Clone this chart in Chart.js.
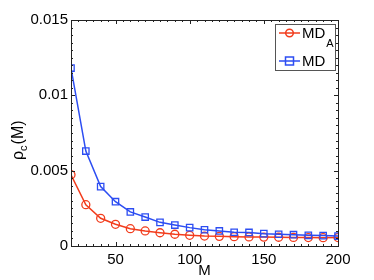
<!DOCTYPE html>
<html><head><meta charset="utf-8">
<script src="https://cdn.jsdelivr.net/npm/chart.js@4/dist/chart.umd.min.js"></script>
<style>html,body{margin:0;padding:0;background:#fff}#wrap{width:374px;height:280px}</style>
</head><body><div id="wrap"><canvas id="c" width="374" height="280"></canvas></div>
<script>
const M = [20,30,40,50,60,70,80,90,100,110,120,130,140,150,160,170,180,190,200];
const MD_A = [0.00473,0.00274,0.00184,0.00144,0.00115,0.00100,0.00088,0.00078,0.00071,0.00066,0.00064,0.00062,0.00060,0.00059,0.00058,0.00057,0.00056,0.00055,0.00056];
const MD = [0.01181,0.00630,0.00394,0.00294,0.00226,0.00192,0.00157,0.00139,0.00122,0.00108,0.00100,0.00091,0.00090,0.00082,0.00078,0.00075,0.00071,0.00069,0.00066];
const xTicks = [50,100,150,200];
const yTicks = [0,0.005,0.01,0.015];
const yTickLabels = ['0','0.005','0.01','0.015'];

const RED = '#f23c1c', BLUE = '#2c4df2';
const FONT = 'Liberation Sans, Arial, Helvetica, sans-serif';

const frame = {
  id:'frame',
  afterDatasetsDraw(chart){
    const {ctx, chartArea:a, scales:{x,y}} = chart;
    ctx.save();
    ctx.strokeStyle = '#222'; ctx.lineWidth = 1;
    ctx.strokeRect(Math.round(a.left)+0.5, Math.round(a.top)+0.5, Math.round(a.right-a.left), Math.round(a.bottom-a.top));
    ctx.beginPath();
    for (let v=20; v<=200; v+=5){
      const px = Math.round(x.getPixelForValue(v))+0.5;
      const L = (v%50===0)?4:2;
      ctx.moveTo(px,a.bottom); ctx.lineTo(px,a.bottom-L);
      ctx.moveTo(px,a.top); ctx.lineTo(px,a.top+L);
    }
    for (let i=0;i<=30;i++){
      const v=i*0.0005;
      const py = Math.round(y.getPixelForValue(v))+0.5;
      const L = (i%10===0)?4:2;
      ctx.moveTo(a.left,py); ctx.lineTo(a.left+L,py);
      ctx.moveTo(a.right,py); ctx.lineTo(a.right-L,py);
    }
    ctx.stroke();
    // y title
    ctx.fillStyle='#000';
    ctx.translate(23,160);
    ctx.rotate(-Math.PI/2);
    ctx.textBaseline='alphabetic'; ctx.textAlign='left';
    ctx.font='16px '+FONT;
    let w=0;
    ctx.fillText('ρ',0,0); w+=ctx.measureText('ρ').width;
    ctx.font='11px '+FONT;
    ctx.fillText('c',w,4); w+=ctx.measureText('c').width+1;
    ctx.font='16px '+FONT;
    ctx.fillText('(M)',w,0);
    ctx.restore();
    // legend
    ctx.save();
    const lx=275, ly=24, lw=60, lh=46;
    ctx.fillStyle='#fff'; ctx.fillRect(lx,ly,lw,lh);
    ctx.strokeStyle='#555'; ctx.lineWidth=1;
    ctx.strokeRect(lx+0.5,ly+0.5,lw,lh);
    const rows=[{c:RED,t:'MD',sub:'A',shape:'circle',y:33},{c:BLUE,t:'MD',sub:'',shape:'square',y:61}];
    for(const r of rows){
      ctx.strokeStyle=r.c; ctx.lineWidth=1.5;
      ctx.beginPath(); ctx.moveTo(279,r.y); ctx.lineTo(300,r.y); ctx.stroke();
      ctx.beginPath();
      if(r.shape==='circle'){ctx.arc(289.5,r.y,3.8,0,Math.PI*2);} else {ctx.rect(285.5,r.y-4,8,8);}
      ctx.stroke();
      ctx.fillStyle='#000'; ctx.font='15px '+FONT; ctx.textBaseline='middle'; ctx.textAlign='left';
      ctx.fillText(r.t,302,r.y+1);
      if(r.sub){const tw=ctx.measureText(r.t).width; ctx.font='11px '+FONT; ctx.fillText(r.sub,302+tw+1,r.y+11);}
    }
    ctx.restore();
  }
};

new Chart(document.getElementById('c'),{
  type:'line',
  data:{datasets:[
    {label:'MD_A',data:M.map((m,i)=>({x:m,y:MD_A[i]})),borderColor:RED,backgroundColor:'rgba(0,0,0,0)',borderWidth:1.5,pointStyle:'circle',pointRadius:4,pointBorderWidth:1.3,pointBorderColor:RED,pointBackgroundColor:'rgba(0,0,0,0)',tension:0,order:2},
    {label:'MD',data:M.map((m,i)=>({x:m,y:MD[i]})),borderColor:BLUE,backgroundColor:'rgba(0,0,0,0)',borderWidth:1.5,pointStyle:'rect',pointRadius:4.5,pointBorderWidth:1.3,pointBorderColor:BLUE,pointBackgroundColor:'rgba(0,0,0,0)',tension:0,order:1}
  ]},
  options:{
    responsive:false,animation:false,devicePixelRatio:1,
    layout:{padding:{top:20,right:36,left:0,bottom:0}},
    plugins:{legend:{display:false},tooltip:{enabled:false}},
    scales:{
      x:{type:'linear',min:20,max:200,
        afterBuildTicks:s=>{s.ticks=xTicks.map(v=>({value:v}));},
        afterFit:s=>{s.height=34;},
        grid:{display:false,drawTicks:false},border:{display:false},
        ticks:{color:'#000',font:{family:FONT,size:15},padding:5,maxRotation:0,callback:v=>String(v)},
        title:{display:true,text:'M',color:'#000',font:{family:FONT,size:15},padding:{top:-4,bottom:0}}
      },
      y:{type:'linear',min:0,max:0.015,
        afterBuildTicks:s=>{s.ticks=yTicks.map(v=>({value:v}));},
        afterFit:s=>{s.width=71;},
        grid:{display:false,drawTicks:false},border:{display:false},
        ticks:{color:'#000',font:{family:FONT,size:15},padding:3,callback:(v)=>yTickLabels[yTicks.indexOf(v)] ?? ''}
      }
    }
  },
  plugins:[frame]
});
</script></body></html>
